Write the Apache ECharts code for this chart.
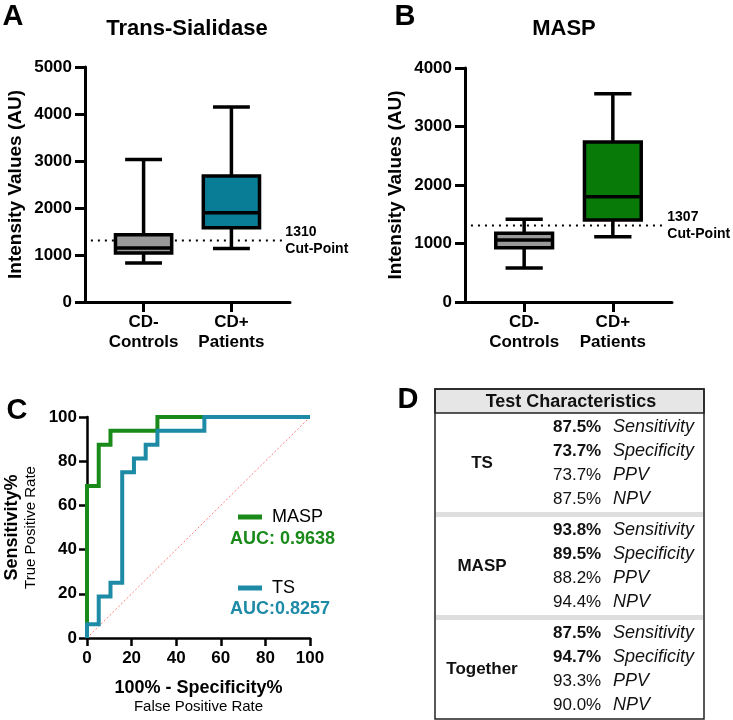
<!DOCTYPE html>
<html>
<head>
<meta charset="utf-8">
<script src="https://cdn.jsdelivr.net/npm/echarts@6/dist/echarts.min.js"></script>
<style>
html, body { margin: 0; padding: 0; background: #fff; }
#main { width: 733px; height: 720px; }
</style>
</head>
<body>
<div id="main"></div>
<script>
// panels A and B: box plots (min, q1, median, q3, max)
const categories = ['CD-\nControls', 'CD+\nPatients'];
const tsBox = [[830, 1040, 1150, 1430, 3030], [1140, 1580, 1900, 2680, 4150]];
const maspBox = [[580, 926, 1060, 1175, 1415], [1115, 1400, 1800, 2735, 3560]];
const tsColors = ['#9a9a9a', '#097d96'];
const maspColors = ['#9a9a9a', '#087a08'];
const cutPoints = [1310, 1307];

// panel C: ROC curves
const maspFpr = [0, 0, 5.26, 5.26, 10.53, 10.53, 31.58, 31.58, 100];
const maspSens = [0, 68.75, 68.75, 87.5, 87.5, 93.75, 93.75, 100, 100];
const tsFpr = [0, 0, 5.26, 5.26, 10.53, 10.53, 15.79, 15.79, 21.05, 21.05, 26.32, 26.32, 31.58, 31.58, 52.63, 52.63, 100];
const tsSens = [0, 6.25, 6.25, 18.75, 18.75, 25, 25, 75, 75, 81.25, 81.25, 87.5, 87.5, 93.75, 93.75, 100, 100];
const aucLabels = ['AUC: 0.9638', 'AUC:0.8257'];

// panel D: table
const tableGroups = ['TS', 'MASP', 'Together'];
const metrics = ['Sensitivity', 'Specificity', 'PPV', 'NPV'];
const tableValues = [
  [87.5, 73.7, 73.7, 87.5],
  [93.8, 89.5, 88.2, 94.4],
  [87.5, 94.7, 93.3, 90.0]
];

const FONT = '"Liberation Sans", Arial, sans-serif';
const GREEN = '#1a8a1a';
const TEAL = '#1d8aa6';

const chart = echarts.init(document.getElementById('main'));

function renderBox(params, api) {
  const x = api.value(0);
  const pMin = api.coord([x, api.value(1)]);
  const pQ1 = api.coord([x, api.value(2)]);
  const pMed = api.coord([x, api.value(3)]);
  const pQ3 = api.coord([x, api.value(4)]);
  const pMax = api.coord([x, api.value(5)]);
  const unit = api.size([1, 0])[0];
  const half = unit * 0.32;
  const cap = unit * 0.21;
  const line = { stroke: '#000', lineWidth: 3.5 };
  const cx = pMed[0];
  return {
    type: 'group',
    children: [
      { type: 'line', shape: { x1: cx, y1: pQ3[1], x2: cx, y2: pMax[1] }, style: line },
      { type: 'line', shape: { x1: cx - cap, y1: pMax[1], x2: cx + cap, y2: pMax[1] }, style: line },
      { type: 'line', shape: { x1: cx, y1: pQ1[1], x2: cx, y2: pMin[1] }, style: line },
      { type: 'line', shape: { x1: cx - cap, y1: pMin[1], x2: cx + cap, y2: pMin[1] }, style: line },
      { type: 'rect', shape: { x: cx - half, y: pQ3[1], width: half * 2, height: pQ1[1] - pQ3[1] },
        style: { fill: api.visual('color'), stroke: '#000', lineWidth: 3.5 } },
      { type: 'line', shape: { x1: cx - half, y1: pMed[1], x2: cx + half, y2: pMed[1] }, style: line }
    ]
  };
}

function boxAxisX(gi) {
  return {
    gridIndex: gi, type: 'value', min: -0.667, max: 1.667,
    splitLine: { show: false },
    axisLine: { onZero: false, lineStyle: { color: '#000', width: 3 } },
    axisTick: { customValues: [0, 1], length: 10, lineStyle: { color: '#000', width: 3 } },
    axisLabel: {
      customValues: [0, 1], formatter: v => categories[Math.round(v)],
      color: '#000', fontFamily: FONT, fontWeight: 'bold', fontSize: 17, lineHeight: 20, margin: 10
    }
  };
}

function boxAxisY(gi, max) {
  return {
    gridIndex: gi, type: 'value', min: 0, max: max, interval: 1000,
    name: 'Intensity Values (AU)', nameLocation: 'middle', nameGap: 60,
    nameTextStyle: { color: '#000', fontFamily: FONT, fontWeight: 'bold', fontSize: 19 },
    splitLine: { show: false },
    axisLine: { show: true, onZero: false, lineStyle: { color: '#000', width: 3 } },
    axisTick: { show: true, length: 10, lineStyle: { color: '#000', width: 3 } },
    axisLabel: { formatter: v => String(v), color: '#000', fontFamily: FONT, fontWeight: 'bold', fontSize: 17, margin: 13 }
  };
}

function cutSeries(gi, value) {
  return {
    type: 'line', xAxisIndex: gi, yAxisIndex: gi, silent: true, z: 1,
    data: [[-0.6, value], [1.58, value]],
    symbol: 'none',
    lineStyle: { color: '#000', width: 2, type: [2, 5] },
    endLabel: {
      show: true, distance: 3, formatter: value + '\nCut-Point',
      color: '#000', fontFamily: FONT, fontWeight: 'bold', fontSize: 14, lineHeight: 17
    }
  };
}

function boxSeries(gi, boxes, colors) {
  return {
    type: 'custom', xAxisIndex: gi, yAxisIndex: gi, silent: true, z: 5,
    renderItem: renderBox,
    encode: { x: 0, y: [1, 2, 3, 4, 5] },
    data: boxes.map((b, i) => ({ value: [i].concat(b), itemStyle: { color: colors[i] } }))
  };
}

const rocAxisStyle = {
  min: 0, max: 100, interval: 20,
  splitLine: { show: false },
  axisLine: { show: true, onZero: false, lineStyle: { color: '#000', width: 2.5 } },
  axisTick: { show: true, length: 8, lineStyle: { color: '#000', width: 2.5 } }
};

// table graphic
const tL = 435, tR = 704, tT = 389, tB = 719, headH = 24;
const tableEls = [];
tableEls.push({ type: 'rect', shape: { x: tL, y: tT, width: tR - tL, height: headH }, style: { fill: '#e6e6e6', stroke: '#222', lineWidth: 1.5 } });
tableEls.push({ type: 'rect', shape: { x: tL, y: tT, width: tR - tL, height: tB - tT }, style: { fill: 'none', stroke: '#222', lineWidth: 1.5 } });
tableEls.push({ type: 'text', style: { text: 'Test Characteristics', x: 571, y: tT + headH / 2 + 1, align: 'center', verticalAlign: 'middle', font: 'bold 18px ' + FONT, fill: '#111' } });
tableGroups.forEach((g, gi) => {
  const y0 = 427 + gi * 103;
  if (gi > 0) {
    tableEls.push({ type: 'rect', shape: { x: tL + 1, y: y0 - 18, width: tR - tL - 2, height: 5 }, style: { fill: '#dedede' } });
  }
  tableEls.push({ type: 'text', style: { text: g, x: 482, y: y0 + 36, align: 'center', verticalAlign: 'middle', font: 'bold 17px ' + FONT, fill: '#111' } });
  metrics.forEach((m, mi) => {
    const y = y0 + mi * 24;
    const bold = mi < 2 ? 'bold ' : '';
    tableEls.push({ type: 'text', style: { text: tableValues[gi][mi].toFixed(1) + '%', x: 553, y: y, align: 'left', verticalAlign: 'middle', font: bold + '17px ' + FONT, fill: '#111' } });
    tableEls.push({ type: 'text', style: { text: m, x: 613, y: y, align: 'left', verticalAlign: 'middle', font: 'italic 18px ' + FONT, fill: '#111' } });
  });
});

function txt(text, x, y, font, fill, align) {
  return { type: 'text', style: { text: text, x: x, y: y, align: align || 'center', verticalAlign: 'middle', font: font, fill: fill || '#000' } };
}

const option = {
  backgroundColor: '#fff',
  animation: false,
  grid: [
    { left: 85, top: 67, width: 205, height: 235 },
    { left: 465, top: 68, width: 207, height: 234 },
    { left: 87, top: 417, width: 223, height: 221 }
  ],
  xAxis: [
    boxAxisX(0),
    boxAxisX(1),
    Object.assign({
      gridIndex: 2, type: 'value',
      name: '{a|100% - Specificity%}\n{b|False Positive Rate}', nameLocation: 'middle', nameGap: 40,
      nameTextStyle: { rich: {
        a: { fontFamily: FONT, fontWeight: 'bold', fontSize: 18, lineHeight: 20, color: '#000' },
        b: { fontFamily: FONT, fontSize: 15, lineHeight: 18, color: '#000' }
      } },
      axisLabel: { color: '#000', fontFamily: FONT, fontWeight: 'bold', fontSize: 17, margin: 12 }
    }, rocAxisStyle)
  ],
  yAxis: [
    boxAxisY(0, 5000),
    boxAxisY(1, 4000),
    Object.assign({
      gridIndex: 2, type: 'value',
      name: '{a|Sensitivity%}\n{b|True Positive Rate}', nameLocation: 'middle', nameGap: 47,
      nameTextStyle: { rich: {
        a: { fontFamily: FONT, fontWeight: 'bold', fontSize: 18, lineHeight: 20, color: '#000' },
        b: { fontFamily: FONT, fontSize: 15, lineHeight: 18, color: '#000' }
      } },
      axisLabel: { color: '#000', fontFamily: FONT, fontWeight: 'bold', fontSize: 17, margin: 10 }
    }, rocAxisStyle)
  ],
  legend: [
    { data: ['MASP'], left: 233, top: 503, icon: 'rect', itemWidth: 24, itemHeight: 5, selectedMode: false,
      textStyle: { color: '#000', fontFamily: FONT, fontSize: 18, padding: [0, 0, 0, 5] } },
    { data: ['TS'], left: 233, top: 574, icon: 'rect', itemWidth: 24, itemHeight: 5, selectedMode: false,
      textStyle: { color: '#000', fontFamily: FONT, fontSize: 18, padding: [0, 0, 0, 5] } }
  ],
  series: [
    cutSeries(0, cutPoints[0]),
    boxSeries(0, tsBox, tsColors),
    cutSeries(1, cutPoints[1]),
    boxSeries(1, maspBox, maspColors),
    {
      type: 'line', xAxisIndex: 2, yAxisIndex: 2, silent: true,
      data: [[0, 0], [100, 100]], symbol: 'none',
      lineStyle: { color: '#ff7f7f', width: 1, type: [2, 2] }
    },
    {
      name: 'MASP', type: 'line', xAxisIndex: 2, yAxisIndex: 2, clip: false,
      data: maspFpr.map((x, i) => [x, maspSens[i]]), symbol: 'none',
      color: GREEN, lineStyle: { color: GREEN, width: 4, join: 'miter' }
    },
    {
      name: 'TS', type: 'line', xAxisIndex: 2, yAxisIndex: 2, clip: false,
      data: tsFpr.map((x, i) => [x, tsSens[i]]), symbol: 'none',
      color: TEAL, lineStyle: { color: TEAL, width: 4, join: 'miter' }
    }
  ],
  graphic: [
    txt('A', 13, 17, 'bold 29px ' + FONT),
    txt('B', 405, 17, 'bold 29px ' + FONT),
    txt('C', 17, 411, 'bold 29px ' + FONT),
    txt('D', 408, 400, 'bold 29px ' + FONT),
    txt('Trans-Sialidase', 187, 29, 'bold 22px ' + FONT),
    txt('MASP', 564, 29, 'bold 22px ' + FONT),
    txt(aucLabels[0], 230, 539, 'bold 18px ' + FONT, GREEN, 'left'),
    txt(aucLabels[1], 230, 609, 'bold 18px ' + FONT, TEAL, 'left'),
    { type: 'group', children: tableEls }
  ]
};

chart.setOption(option);
</script>
</body>
</html>
